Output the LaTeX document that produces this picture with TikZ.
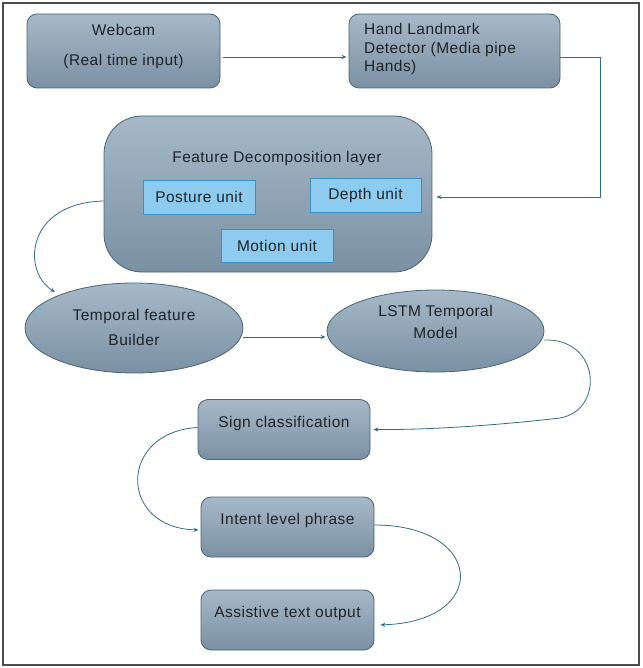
\documentclass[tikz,border=0pt]{standalone}
\usepackage{fontspec}
\setmainfont{Liberation Sans}[LetterSpace=3]
\usetikzlibrary{shapes.geometric,arrows.meta}
\definecolor{boxtop}{HTML}{A7B9C8}
\definecolor{boxbot}{HTML}{7A90A3}
\definecolor{boxline}{HTML}{456476}
\definecolor{unitfill}{HTML}{8DCBEF}
\definecolor{unitline}{HTML}{3590CC}
\definecolor{arr}{HTML}{2F6C87}
\definecolor{txt}{HTML}{1E2428}
\tikzset{
  x=1pt,y=-1pt,
  every node/.style={font=\fontsize{15.5}{18.5}\selectfont, text=txt},
  box/.style={draw=boxline, line width=0.8pt, top color=boxtop, bottom color=boxbot, rounded corners=10pt, inner sep=0pt},
  ell/.style={draw=boxline, line width=0.8pt, top color=boxtop, bottom color=boxbot, ellipse, inner sep=0pt},
  unit/.style={draw=unitline, line width=0.8pt, fill=unitfill, inner sep=0pt},
  conn/.style={draw=arr, line width=0.8pt, -{Stealth[length=5pt,width=4pt]}},
}
\begin{document}
\begin{tikzpicture}
\useasboundingbox (0,0) rectangle (642,668);
\draw[draw=black!70, line width=1.2pt] (3,3) rectangle (639,665);

\node[box, minimum width=193pt, minimum height=74pt, label={[align=center, yshift=5pt]center:Webcam\\[11.5pt](Real time input)}] (webcam) at (123.5,51) {};
\node[box, minimum width=211pt, minimum height=74pt, label={[align=left, anchor=west, xshift=12pt, yshift=2pt]west:Hand Landmark\\Detector (Media pipe\\Hands)}] (hand) at (454.5,51) {};

\node[box, rounded corners=38pt, minimum width=328pt, minimum height=156pt] (feature) at (268,194) {};
\node (ftitle) at (277,158) {Feature Decomposition layer};
\node[unit, minimum width=112pt, minimum height=34pt] (posture) at (199,197) {Posture unit};
\node[unit, minimum width=111pt, minimum height=34pt] (depth) at (365.5,195) {Depth unit};
\node[unit, minimum width=112pt, minimum height=33pt] (motion) at (277,245.5) {Motion unit};

\node[ell, minimum width=218pt, minimum height=90pt, label={[align=center, yshift=0.5pt]center:Temporal feature\\[6.5pt]Builder}] (temporal) at (134,328) {};
\node[ell, minimum width=217pt, minimum height=82pt, label={[align=center, yshift=9pt]center:LSTM Temporal\\[3.5pt]Model}] (lstm) at (435.5,331) {};

\node[box, minimum width=172pt, minimum height=60pt, label={[yshift=6.5pt]center:Sign classification}] (sign) at (284,429.5) {};
\node[box, minimum width=173pt, minimum height=60pt, label={[yshift=7pt]center:Intent level phrase}] (intent) at (287.5,527) {};
\node[box, minimum width=173pt, minimum height=60pt, label={[yshift=7pt]center:Assistive text output}] (assist) at (287.5,620) {};

\coordinate (c1) at (600,57);
\draw[conn, shorten <=3pt, shorten >=2pt] ([yshift=-6pt]webcam.east) -- ([yshift=-6pt]hand.west);
\draw[conn, shorten >=4pt] ([yshift=-6pt]hand.east) -- (c1) |- ([yshift=-3pt]feature.east);
\draw[conn] ([yshift=-7pt]feature.west) .. controls (25,203) and (22,272) .. (55,292);
\draw[conn, shorten >=1pt] ([yshift=-9pt]temporal.east) -- ([yshift=-6pt]lstm.west);
\coordinate (c2) at (560,418);
\draw[conn, shorten >=3pt] ([yshift=-9pt]lstm.east) .. controls (600,338) and (605,410) .. (c2) .. controls (500,425) and (430,430) .. (sign.east);
\draw[conn, shorten >=2pt] ([yshift=2pt]sign.west) .. controls (118,432) and (118,528) .. ([yshift=-3pt]intent.west);
\draw[conn, shorten >=6pt] ([yshift=2pt]intent.east) .. controls (485,525) and (490,622) .. ([yshift=-5pt]assist.east);
\end{tikzpicture}
\end{document}
